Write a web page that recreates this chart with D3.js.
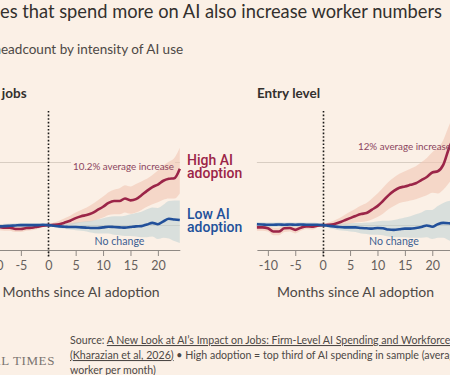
<!DOCTYPE html>
<html>
<head>
<meta charset="utf-8">
<script src="https://cdn.jsdelivr.net/npm/d3@7"></script>
<style>
body { margin: 0; background: #fbf0e6; overflow: hidden; }
svg { display: block; font-family: Lato, "Noto Sans", sans-serif; }
</style>
</head>
<body>
<div id="chart"></div>
<script>
// months since AI adoption
const months = [-12, -11, -10, -9, -8, -7, -6, -5, -4, -3, -2, -1,
                0, 1, 2, 3, 4, 5, 6, 7, 8, 9, 10, 11, 12, 13, 14, 15, 16, 17, 18, 19, 20, 21, 22, 23, 24];
const tickMonths = [-10, -5, 0, 5, 10, 15, 20];

// All jobs, % change in headcount
const allHigh   = [-0.3, -0.2, -0.3, -0.3, -0.4, -0.4, -0.6, -0.6, -0.45, -0.4, -0.25, -0.1,
                   0, 0.05, 0.15, 0.4, 0.7, 1.1, 1.4, 1.6, 1.9, 2.4, 2.9, 3.5, 3.8, 3.8, 4.2, 3.9, 4.1, 4.7, 5.4, 6.0, 6.4, 7.0, 7.3, 7.4, 8.9];
const allHighHi = [0.3, 0.3, 0.2, 0.2, 0.1, 0.1, -0.1, -0.1, 0.0, 0.0, 0.1, 0.1,
                   0.05, 0.4, 0.7, 1.1, 1.5, 2.0, 2.4, 2.8, 3.3, 3.9, 4.5, 5.2, 5.6, 5.8, 6.3, 6.1, 6.5, 6.9, 7.3, 7.9, 8.6, 9.4, 10.0, 10.6, 12.2];
const allHighLo = [-0.9, -0.8, -0.8, -0.8, -0.9, -0.9, -1.1, -1.1, -0.9, -0.8, -0.6, -0.3,
                   -0.05, -0.3, -0.3, -0.2, 0, 0.2, 0.4, 0.5, 0.6, 0.9, 1.2, 1.6, 1.7, 1.7, 2.0, 1.8, 2.0, 2.4, 2.9, 3.3, 3.6, 4.0, 4.2, 4.2, 5.0];
const allLow    = [-0.2, -0.15, -0.2, -0.2, -0.15, -0.1, -0.05, 0, 0, 0, 0, 0.05,
                   0, -0.1, -0.2, -0.25, -0.3, -0.3, -0.35, -0.4, -0.45, -0.45, -0.35, -0.25, -0.3, -0.35, -0.4, -0.3, -0.2, -0.15, 0.1, 0.35, 0.15, 0.6, 1.0, 0.9, 0.8];
const allLowHi  = [0.15, 0.2, 0.15, 0.15, 0.2, 0.25, 0.3, 0.35, 0.35, 0.3, 0.3, 0.25,
                   0.05, 0.2, 0.2, 0.3, 0.3, 0.4, 0.5, 0.6, 0.7, 0.9, 1.1, 1.3, 1.4, 1.4, 1.5, 1.7, 1.9, 2.1, 2.5, 2.8, 2.7, 3.2, 3.8, 3.9, 3.9];
const allLowLo  = [-0.55, -0.5, -0.55, -0.55, -0.5, -0.45, -0.4, -0.35, -0.35, -0.3, -0.3, -0.2,
                   -0.05, -0.3, -0.5, -0.6, -0.7, -0.8, -0.9, -1.0, -1.2, -1.3, -1.3, -1.3, -1.5, -1.6, -1.7, -1.7, -1.8, -1.9, -1.9, -1.8, -2.2, -2.0, -2.1, -2.5, -2.8];

// Entry level
const entryHigh   = [-0.35, -0.35, -0.5, -1.0, -1.0, -0.5, -0.45, -0.75, -0.4, -0.2, -0.25, -0.1,
                     0, 0.05, 0.15, 0.4, 0.75, 1.1, 1.45, 1.75, 1.9, 2.45, 3.0, 3.8, 4.7, 5.4, 5.9, 6.1, 6.35, 6.6, 7.1, 7.6, 8.3, 8.5, 9.5, 12.0, 14.0];
const entryHighHi = [0.2, 0.2, 0.1, -0.4, -0.4, 0.1, 0.1, -0.2, 0.2, 0.3, 0.2, 0.2,
                     0.05, 0.4, 0.7, 1.1, 1.6, 2.1, 2.6, 3.1, 3.5, 4.2, 5.0, 5.9, 6.8, 7.5, 8.1, 8.5, 8.9, 9.3, 9.9, 10.6, 11.5, 12.2, 13.4, 15.6, 17.5];
const entryHighLo = [-0.9, -0.9, -1.0, -1.6, -1.6, -1.1, -1.0, -1.3, -0.9, -0.6, -0.7, -0.4,
                     -0.05, -0.3, -0.3, -0.2, 0, 0.2, 0.4, 0.5, 0.6, 0.9, 1.3, 1.8, 2.5, 3.0, 3.5, 3.7, 3.9, 4.1, 4.4, 4.7, 5.1, 5.0, 5.6, 6.6, 8.0];
const entryLow    = [0.15, 0.1, 0.05, 0.05, 0.1, 0.05, 0.1, 0.05, 0.1, 0.05, 0.05, 0.05,
                     0, -0.1, -0.2, -0.3, -0.35, -0.35, -0.35, -0.45, -0.5, -0.55, -0.45, -0.5, -0.7, -0.75, -0.65, -0.55, -0.55, -0.45, -0.3, -0.05, -0.25, 0.15, 0.35, 0.3, 0.2];
const entryLowHi  = [0.5, 0.45, 0.4, 0.4, 0.45, 0.4, 0.45, 0.4, 0.45, 0.4, 0.4, 0.35,
                     0.05, 0.2, 0.2, 0.2, 0.25, 0.3, 0.35, 0.35, 0.4, 0.45, 0.6, 0.7, 0.7, 0.8, 1.0, 1.2, 1.4, 1.7, 2.0, 2.4, 2.4, 3.0, 3.5, 3.8, 4.0];
const entryLowLo  = [-0.2, -0.25, -0.3, -0.3, -0.25, -0.3, -0.25, -0.3, -0.25, -0.3, -0.3, -0.25,
                     -0.05, -0.4, -0.6, -0.8, -0.9, -1.0, -1.1, -1.3, -1.4, -1.5, -1.5, -1.6, -1.8, -1.9, -1.9, -1.9, -2.0, -2.0, -2.0, -1.9, -2.2, -2.0, -2.0, -2.4, -2.6];

const gridValues = [0, 10];

const bg = "#fbf0e6",
      claret = "#9b2548",
      blue = "#22509a";

const width = 450, height = 375;

const svg = d3.select("#chart")
    .append("svg")
    .attr("width", width)
    .attr("height", height);

svg.append("rect").attr("width", width).attr("height", height).attr("fill", bg);

const y = d3.scaleLinear()
    .domain([-4, 18])
    .range([250.5, 111]);

// title + subtitle (cropped on the left like the source image)
const title = svg.append("text")
    .attr("y", 18)
    .style("font-size", "18.3px")
    .style("fill", "#33302e")
    .text("Companies that spend more on AI also increase worker numbers");
title.attr("x", -title.node().getSubStringLength(0, 7));

const sub = svg.append("text")
    .attr("y", 54)
    .style("font-size", "13.5px")
    .style("fill", "#4d4845")
    .text("Change in headcount by intensity of AI use");
sub.attr("x", 1 - sub.node().getSubStringLength(0, 11));

function drawPanel(name, x, high, highLo, highHi, low, lowLo, lowHi) {
    const g = svg.append("g");
    const [x0, x1] = x.range();

    g.append("text")
        .attr("x", x0)
        .attr("y", 98)
        .style("font-size", "13.5px")
        .style("font-weight", "bold")
        .style("fill", "#33302e")
        .text(name);

    g.selectAll(".grid")
        .data(gridValues)
        .enter().append("line")
        .attr("class", "grid")
        .attr("x1", x0).attr("x2", x1)
        .attr("y1", function(d) { return Math.round(y(d)) + 0.5; })
        .attr("y2", function(d) { return Math.round(y(d)) + 0.5; })
        .style("stroke", "#d8cdc2")
        .style("stroke-width", 1);

    const area = function(lo, hi) {
        return d3.area()
            .x(function(d, i) { return x(months[i]); })
            .y0(function(d, i) { return y(lo[i]); })
            .y1(function(d, i) { return y(hi[i]); })
            .curve(d3.curveMonotoneX)(months);
    };
    const line = function(vals) {
        return d3.line()
            .x(function(d, i) { return x(months[i]); })
            .y(function(d, i) { return y(vals[i]); })
            .curve(d3.curveMonotoneX)(months);
    };

    const bands = g.append("g");
    bands.append("path").attr("d", area(highLo, highHi))
        .style("fill", "#f2c6b4").style("opacity", 0.6);
    bands.append("path").attr("d", area(lowLo, lowHi))
        .style("fill", "#bdd1d3").style("opacity", 0.55);

    g.append("g")
        .attr("transform", "translate(0,250)")
        .call(d3.axisBottom(x).tickValues(tickMonths).tickSize(6).tickSizeOuter(0).tickPadding(5))
        .call(function(a) {
            a.select(".domain").style("stroke", "#8f8984");
            a.selectAll(".tick line").style("stroke", "#8f8984");
            a.selectAll(".tick text")
                .style("font-size", "12.5px")
                .style("font-family", "Lato, 'Noto Sans', sans-serif")
                .style("fill", "#66605c")
                .text(function(d) { return d < 0 ? "-" + Math.abs(d) : d; });
        });

    g.append("line")
        .attr("x1", Math.round(x(0)) + 0.5).attr("x2", Math.round(x(0)) + 0.5)
        .attr("y1", y(18)).attr("y2", 257)
        .style("stroke", "#1a1817")
        .style("stroke-width", 1.6)
        .style("stroke-dasharray", "1.6,2");

    g.append("path").attr("d", line(high))
        .style("fill", "none").style("stroke", claret)
        .style("stroke-width", 2.6).style("stroke-linejoin", "round");
    g.append("path").attr("d", line(low))
        .style("fill", "none").style("stroke", blue)
        .style("stroke-width", 2.6).style("stroke-linejoin", "round");

    g.append("text")
        .attr("x", (x0 + x1) / 2)
        .attr("y", 297)
        .attr("text-anchor", "middle")
        .style("font-size", "14px")
        .style("fill", "#4d4845")
        .text("Months since AI adoption");

    return g;
}

const xAll = d3.scaleLinear().domain([-12, 24]).range([-17.5, 179.8]);
const xEntry = d3.scaleLinear().domain([-12, 24]).range([256.9, 454.2]);

const gAll = drawPanel("All jobs", xAll, allHigh, allHighLo, allHighHi, allLow, allLowLo, allLowHi);
const gEntry = drawPanel("Entry level", xEntry, entryHigh, entryHighLo, entryHighHi, entryLow, entryLowLo, entryLowHi);

// annotations
const avgAll = gAll.append("text")
    .attr("x", 174).attr("y", 170)
    .attr("text-anchor", "end")
    .style("font-size", "9.8px")
    .style("fill", "#8c4560")
    .text("10.2% average increase");
const bb = avgAll.node().getBBox();
gAll.insert("rect", "g")
    .attr("x", bb.x - 2).attr("y", y(10) - 1.5)
    .attr("width", bb.width + 3).attr("height", 3)
    .style("fill", bg);

gEntry.append("text")
    .attr("x", 358).attr("y", 150)
    .style("font-size", "9.8px")
    .style("fill", "#8c4560")
    .text("12% average increase");

[[gAll, xAll], [gEntry, xEntry]].forEach(function(p) {
    p[0].append("text")
        .attr("x", p[1](13)).attr("y", 245)
        .attr("text-anchor", "middle")
        .style("font-size", "10.6px")
        .style("fill", "#3d5f92")
        .text("No change");
});

const labelFont = "Roboto, Lato, sans-serif";

const hiLab = svg.append("text")
    .attr("x", 187).attr("y", 164.5)
    .style("font-family", labelFont)
    .style("font-size", "14px")
    .style("font-weight", 500)
    .style("fill", claret);
hiLab.append("tspan").attr("x", 187).text("High AI");
hiLab.append("tspan").attr("x", 187).attr("dy", 13.5).text("adoption");

const loLab = svg.append("text")
    .attr("x", 187).attr("y", 218.5)
    .style("font-family", labelFont)
    .style("font-size", "14px")
    .style("font-weight", 500)
    .style("fill", blue);
loLab.append("tspan").attr("x", 187).text("Low AI");
loLab.append("tspan").attr("x", 187).attr("dy", 13.5).text("adoption");

// footer
svg.append("text")
    .attr("x", 55).attr("y", 365)
    .attr("text-anchor", "end")
    .style("font-family", "'Liberation Serif', 'DejaVu Serif', serif")
    .style("font-size", "13px")
    .style("letter-spacing", "0.6px")
    .style("fill", "#7a7470")
    .text("FINANCIAL TIMES");

const src = svg.append("text")
    .attr("y", 344)
    .style("font-size", "10.6px")
    .style("fill", "#4d4845");
const l1 = src.append("tspan").attr("x", 70);
l1.append("tspan").text("Source: ");
l1.append("tspan").style("text-decoration", "underline")
    .text("A New Look at AI\u2019s Impact on Jobs: Firm-Level AI Spending and Workforce");
const l2 = src.append("tspan").attr("x", 70).attr("dy", 15);
l2.append("tspan").style("text-decoration", "underline").text("(Kharazian et al, 2026)");
l2.append("tspan").text(" \u2022 High adoption = top third of AI spending in sample (average spend per");
src.append("tspan").attr("x", 70).attr("dy", 15).text("worker per month)");
</script>
</body>
</html>
